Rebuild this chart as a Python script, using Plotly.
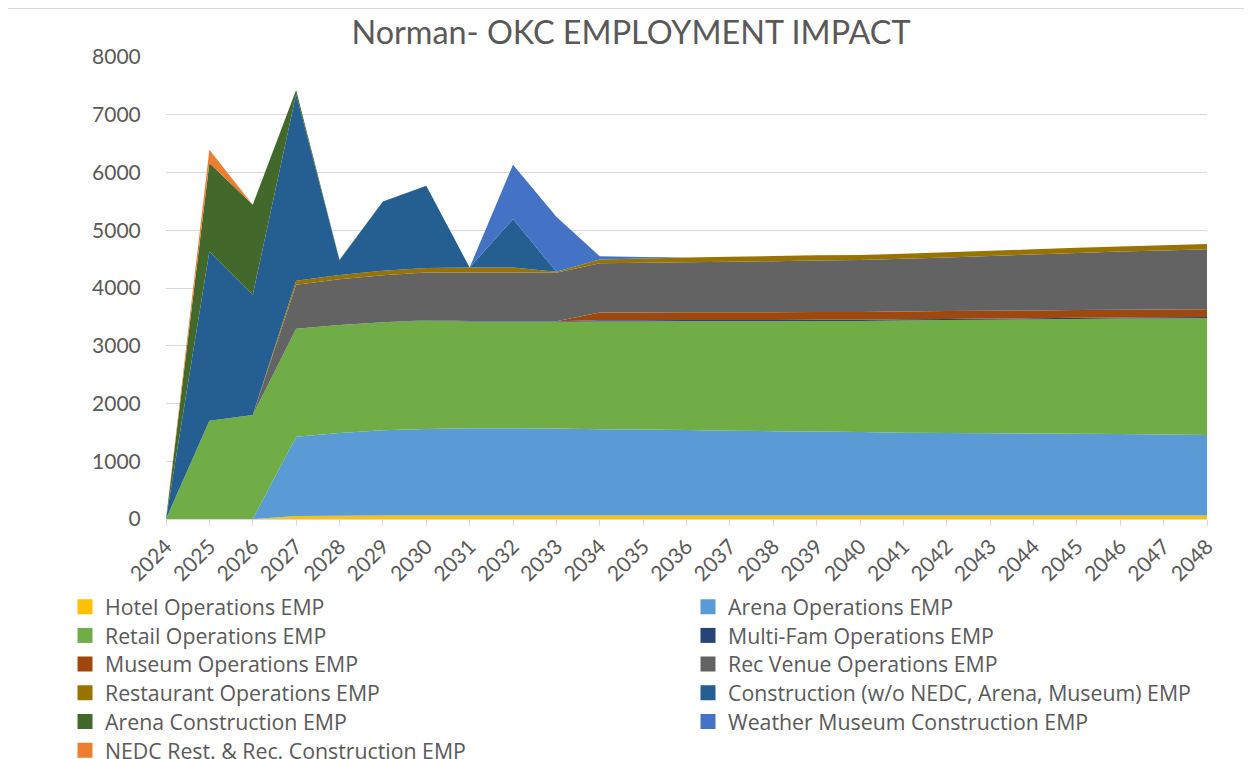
import plotly.graph_objects as go

# ---------------- data ----------------
years = [str(y) for y in range(2024, 2049)]

hotel_ops = [0, 0, 0, 50, 55, 60, 60, 60, 60, 60, 60, 60, 60, 60, 60, 60, 60, 60, 60, 60, 60, 60, 60, 60, 60]
arena_ops = [0, 0, 0, 1376, 1435, 1475, 1500, 1510, 1510, 1505, 1495, 1490, 1480, 1470, 1460, 1455, 1445, 1435,
             1430, 1425, 1420, 1415, 1410, 1402, 1395]
retail_ops = [0, 1700, 1802, 1867, 1870, 1870, 1871, 1850, 1850, 1850, 1865, 1872, 1885, 1895, 1905, 1915, 1925,
              1942, 1955, 1965, 1975, 1988, 2000, 2012, 2023]
multifam_ops = [0, 0, 0, 0, 0, 0, 10, 10, 10, 10, 20, 20, 20, 20, 20, 20, 20, 20, 20, 20, 20, 20, 20, 20, 20]
museum_ops = [0, 0, 0, 0, 0, 0, 0, 0, 0, 0, 135, 135, 135, 135, 135, 135, 135, 135, 135, 135, 135, 135, 135, 135, 135]
rec_venue_ops = [0, 0, 0, 762, 790, 815, 828, 838, 838, 838, 854, 860, 868, 876, 884, 892, 900, 913, 930, 950, 970,
                 990, 1005, 1022, 1040]
restaurant_ops = [0, 0, 0, 70, 75, 80, 76, 87, 87, 17, 65, 75, 80, 85, 88, 88, 88, 90, 90, 90, 89, 88, 88, 88, 88]
construction = [0, 2933, 2080, 3235, 255, 1200, 1427, 0, 839, 0, 0, 0, 0, 0, 0, 0, 0, 0, 0, 0, 0, 0, 0, 0, 0]
arena_construction = [0, 1530, 1560, 70, 10, 0, 0, 0, 0, 0, 0, 0, 0, 0, 0, 0, 0, 0, 0, 0, 0, 0, 0, 0, 0]
weather_museum_construction = [0, 0, 0, 0, 0, 0, 0, 0, 941, 955, 55, 25, 0, 0, 0, 0, 0, 0, 0, 0, 0, 0, 0, 0, 0]
nedc_construction = [0, 230, 0, 0, 0, 0, 0, 0, 0, 0, 0, 0, 0, 0, 0, 0, 0, 0, 0, 0, 0, 0, 0, 0, 0]

series_names = [
    "Hotel Operations EMP",
    "Arena Operations EMP",
    "Retail Operations EMP",
    "Multi-Fam Operations EMP",
    "Museum Operations EMP",
    "Rec Venue Operations EMP",
    "Restaurant Operations EMP",
    "Construction (w/o NEDC, Arena, Museum) EMP",
    "Arena Construction EMP",
    "Weather Museum Construction EMP",
    "NEDC Rest. & Rec. Construction EMP",
]
series_values = [hotel_ops, arena_ops, retail_ops, multifam_ops, museum_ops, rec_venue_ops, restaurant_ops,
                 construction, arena_construction, weather_museum_construction, nedc_construction]
series_colors = ["#FFC000", "#5B9BD5", "#70AD47", "#264478", "#9E480E", "#636363", "#997300",
                 "#255E91", "#43682B", "#4472C4", "#ED7D31"]

title_text = "Norman- OKC EMPLOYMENT IMPACT"

# ---------------- figure ----------------
FONT = "Lato"
LEG_FONT = "Open Sans"
LEG_SIZE = 21.3
TXT = "#595959"
GRID = "#D9D9D9"

# page has an 8px body margin; the layout below compensates for it
ML, MT, MR, MB = 158, 49, 53, 248
PW = 1252 - ML - MR
PH = 759 - MT - MB
PLOT_BOTTOM = 759 - MB

fig = go.Figure()

for name, vals, col in zip(series_names, series_values, series_colors):
    fig.add_trace(go.Scatter(
        x=years, y=vals, name=name, mode="none", stackgroup="one",
        fill="tonexty", fillcolor=col, showlegend=False, hoverinfo="x+y+name",
    ))

# legend: two columns, row-major like the original; one single-entry legend per cell
row_pitch = 28.7
first_row_center = 598.7          # figure pixels
item_h = LEG_SIZE * 1.3 + 3
col_left = [57, 680]              # figure pixels

legend_layouts = {}
for i, (name, col) in enumerate(zip(series_names, series_colors)):
    lid = "legend" if i == 0 else f"legend{i + 1}"
    fig.add_trace(go.Scatter(
        x=[None], y=[None], name=name, mode="markers",
        marker=dict(symbol="square", size=15, color=col),
        legend=lid,
    ))
    row, c = divmod(i, 2)
    top = first_row_center + row * row_pitch - item_h / 2 - 5
    legend_layouts[lid] = dict(
        orientation="v", yanchor="top", xanchor="left", xref="paper", yref="paper",
        x=(col_left[c] - ML) / PW, y=(PLOT_BOTTOM - top) / PH,
        font=dict(family=LEG_FONT, size=LEG_SIZE, color=TXT), bgcolor="rgba(0,0,0,0)",
        itemwidth=30, maxheight=200,
    )

fig.update_layout(
    width=1252, height=759,
    paper_bgcolor="white", plot_bgcolor="white",
    margin=dict(l=ML, r=MR, t=MT, b=MB, autoexpand=False),
    title=dict(text=title_text, x=623 / 1252, xref="container", xanchor="center",
               y=1 - 25 / 759, yref="container", yanchor="middle",
               font=dict(family=FONT, size=32.4, color=TXT)),
    showlegend=True,
    xaxis=dict(
        type="category", range=[0, len(years) - 1],
        showgrid=False, showline=True, linecolor=GRID, linewidth=1,
        ticks="outside", ticklen=6, tickcolor=GRID, tickwidth=1,
        tickangle=-45, tickfont=dict(family=FONT, size=21, color=TXT),
    ),
    yaxis=dict(
        range=[0, 8000], dtick=1000, showgrid=True, gridcolor=GRID, gridwidth=1,
        zeroline=False, showline=False,
        ticks="outside", ticklen=20, tickcolor="rgba(0,0,0,0)",
        tickfont=dict(family=FONT, size=21, color=TXT),
    ),
    shapes=[
        dict(type="line", xref="paper", yref="paper", x0=-1, x1=1.1,
             y0=(PLOT_BOTTOM - 0.5) / PH, y1=(PLOT_BOTTOM - 0.5) / PH,
             line=dict(color=GRID, width=1)),
        dict(type="line", xref="paper", yref="paper", x0=(1241 - ML) / PW, x1=(1241 - ML) / PW,
             y0=-1, y1=(PLOT_BOTTOM - 0.5) / PH, line=dict(color=GRID, width=1)),
    ],
    **legend_layouts,
)

fig.write_html("out.html")
